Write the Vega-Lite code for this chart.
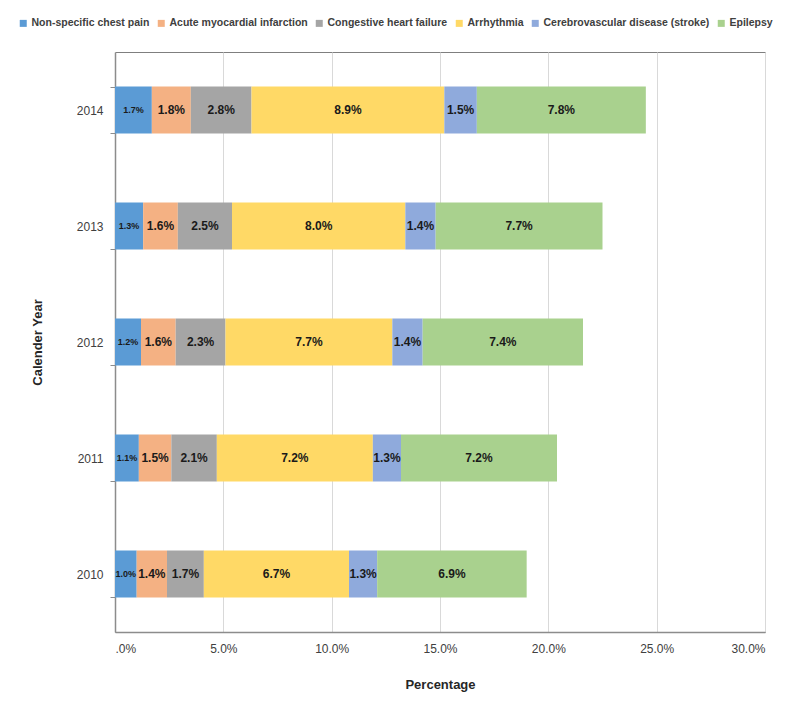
{
  "$schema": "https://vega.github.io/schema/vega-lite/v6.json",
  "autosize": {"type": "none"},
  "width": 650,
  "height": 580,
  "padding": {"left": 115, "top": 52, "right": 35, "bottom": 86},
  "background": "white",
  "config": {
    "font": "Liberation Sans, Arial, sans-serif",
    "view": {"stroke": "#7f7f7f", "strokeWidth": 1}
  },
  "data": {
    "values": [
      {"year": "2014", "cause": "Non-specific chest pain", "k": 1, "pct": 0.017},
      {"year": "2014", "cause": "Acute myocardial infarction", "k": 2, "pct": 0.018},
      {"year": "2014", "cause": "Congestive heart failure", "k": 3, "pct": 0.028},
      {"year": "2014", "cause": "Arrhythmia", "k": 4, "pct": 0.089},
      {"year": "2014", "cause": "Cerebrovascular disease (stroke)", "k": 5, "pct": 0.015},
      {"year": "2014", "cause": "Epilepsy", "k": 6, "pct": 0.078},
      {"year": "2013", "cause": "Non-specific chest pain", "k": 1, "pct": 0.013},
      {"year": "2013", "cause": "Acute myocardial infarction", "k": 2, "pct": 0.016},
      {"year": "2013", "cause": "Congestive heart failure", "k": 3, "pct": 0.025},
      {"year": "2013", "cause": "Arrhythmia", "k": 4, "pct": 0.080},
      {"year": "2013", "cause": "Cerebrovascular disease (stroke)", "k": 5, "pct": 0.014},
      {"year": "2013", "cause": "Epilepsy", "k": 6, "pct": 0.077},
      {"year": "2012", "cause": "Non-specific chest pain", "k": 1, "pct": 0.012},
      {"year": "2012", "cause": "Acute myocardial infarction", "k": 2, "pct": 0.016},
      {"year": "2012", "cause": "Congestive heart failure", "k": 3, "pct": 0.023},
      {"year": "2012", "cause": "Arrhythmia", "k": 4, "pct": 0.077},
      {"year": "2012", "cause": "Cerebrovascular disease (stroke)", "k": 5, "pct": 0.014},
      {"year": "2012", "cause": "Epilepsy", "k": 6, "pct": 0.074},
      {"year": "2011", "cause": "Non-specific chest pain", "k": 1, "pct": 0.011},
      {"year": "2011", "cause": "Acute myocardial infarction", "k": 2, "pct": 0.015},
      {"year": "2011", "cause": "Congestive heart failure", "k": 3, "pct": 0.021},
      {"year": "2011", "cause": "Arrhythmia", "k": 4, "pct": 0.072},
      {"year": "2011", "cause": "Cerebrovascular disease (stroke)", "k": 5, "pct": 0.013},
      {"year": "2011", "cause": "Epilepsy", "k": 6, "pct": 0.072},
      {"year": "2010", "cause": "Non-specific chest pain", "k": 1, "pct": 0.010},
      {"year": "2010", "cause": "Acute myocardial infarction", "k": 2, "pct": 0.014},
      {"year": "2010", "cause": "Congestive heart failure", "k": 3, "pct": 0.017},
      {"year": "2010", "cause": "Arrhythmia", "k": 4, "pct": 0.067},
      {"year": "2010", "cause": "Cerebrovascular disease (stroke)", "k": 5, "pct": 0.013},
      {"year": "2010", "cause": "Epilepsy", "k": 6, "pct": 0.069}
    ]
  },
  "encoding": {
    "y": {
      "field": "year", "type": "nominal",
      "sort": ["2014", "2013", "2012", "2011", "2010"],
      "scale": {"paddingInner": 0.595, "paddingOuter": 0.2975},
      "axis": {
        "title": "Calender Year",
        "titleFontSize": 13, "titleFontWeight": "bold", "titleColor": "#262626",
        "titlePadding": 32,
        "labelFontSize": 12, "labelColor": "#404040", "labelPadding": 7,
        "tickBand": "extent", "tickSize": 5, "tickColor": "#8c8c8c",
        "domainColor": "#8c8c8c", "domainWidth": 1.5, "grid": false
      }
    }
  },
  "layer": [
    {
      "mark": {"type": "bar"},
      "encoding": {
        "x": {
          "field": "pct", "type": "quantitative", "stack": "zero",
          "scale": {"domain": [0, 0.3], "nice": false},
          "axis": {
            "title": "Percentage",
            "titleFontSize": 13, "titleFontWeight": "bold", "titleColor": "#262626",
            "titlePadding": 24,
            "values": [0, 0.05, 0.1, 0.15, 0.2, 0.25, 0.3],
            "labelExpr": "datum.value == 0 ? '.0%' : format(datum.value, '.1%')",
            "labelFontSize": 12, "labelColor": "#404040", "labelPadding": 11,
            "ticks": false, "domainColor": "#8c8c8c", "domainWidth": 1.5,
            "grid": true, "gridColor": "#d9d9d9"
          }
        },
        "order": {"field": "k", "type": "quantitative"},
        "color": {
          "field": "cause", "type": "nominal",
          "scale": {
            "domain": ["Non-specific chest pain", "Acute myocardial infarction", "Congestive heart failure", "Arrhythmia", "Cerebrovascular disease (stroke)", "Epilepsy"],
            "range": ["#5b9bd5", "#f4b183", "#a5a5a5", "#ffd966", "#8faadc", "#a9d18e"]
          },
          "legend": {
            "title": null, "orient": "none", "direction": "horizontal", "columns": 6,
            "legendX": -97, "legendY": -34,
            "symbolType": "square", "symbolSize": 49, "symbolStrokeWidth": 0,
            "labelFontSize": 10.5, "labelFontWeight": "bold", "labelColor": "#404040",
            "labelOffset": 3, "columnPadding": 6, "labelLimit": 300
          }
        }
      }
    },
    {
      "mark": {"type": "text", "fontWeight": "bold", "color": "#1a1a1a", "baseline": "middle"},
      "encoding": {
        "x": {"field": "pct", "type": "quantitative", "stack": "zero", "bandPosition": 0.5},
        "order": {"field": "k", "type": "quantitative"},
        "detail": {"field": "cause"},
        "text": {"field": "pct", "type": "quantitative", "format": ".1%"},
        "size": {"condition": {"test": "datum.k == 1", "value": 9}, "value": 12}
      }
    }
  ]
}
